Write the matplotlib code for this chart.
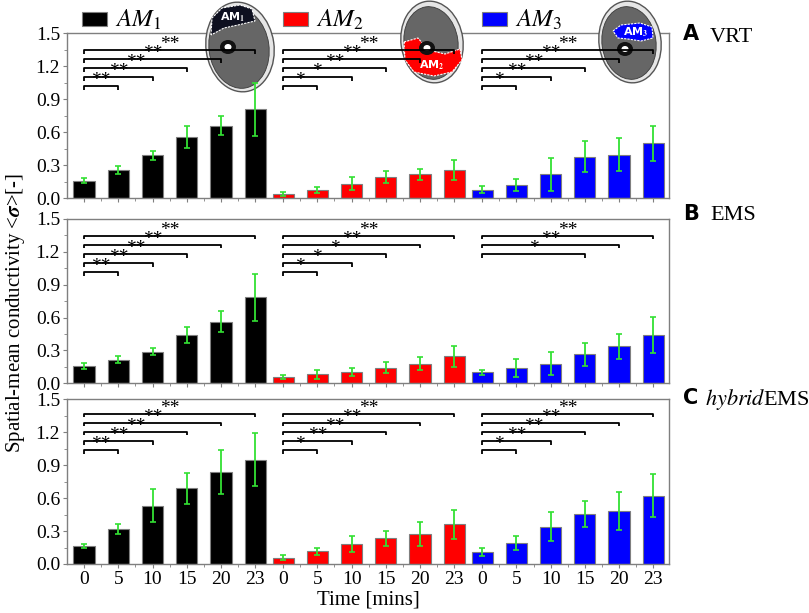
import numpy as np
import matplotlib
matplotlib.use("Agg")
import matplotlib.pyplot as plt
from matplotlib.patches import Ellipse, Polygon, Rectangle

plt.rcParams['font.family'] = ['Liberation Serif', 'DejaVu Serif']
plt.rcParams['mathtext.fontset'] = 'stix'

times = ['0', '5', '10', '15', '20', '23']
groups = ['AM1', 'AM2', 'AM3']
colors = ['#000000', '#ff0000', '#0000ff']

# values per panel (VRT, EMS, hybridEMS), per muscle group
vrt_am1 = [0.16, 0.26, 0.39, 0.56, 0.66, 0.81]
vrt_am1_err = [0.025, 0.035, 0.042, 0.10, 0.088, 0.24]
vrt_am2 = [0.04, 0.076, 0.133, 0.197, 0.218, 0.258]
vrt_am2_err = [0.018, 0.03, 0.06, 0.055, 0.052, 0.092]
vrt_am3 = [0.079, 0.121, 0.218, 0.379, 0.397, 0.50]
vrt_am3_err = [0.035, 0.053, 0.15, 0.142, 0.153, 0.158]

ems_am1 = [0.158, 0.216, 0.289, 0.438, 0.563, 0.785]
ems_am1_err = [0.024, 0.03, 0.033, 0.073, 0.094, 0.216]
ems_am2 = [0.055, 0.082, 0.103, 0.143, 0.18, 0.246]
ems_am2_err = [0.017, 0.04, 0.038, 0.052, 0.058, 0.093]
ems_am3 = [0.10, 0.137, 0.18, 0.265, 0.338, 0.438]
ems_am3_err = [0.024, 0.084, 0.108, 0.103, 0.116, 0.163]

hyb_am1 = [0.161, 0.319, 0.531, 0.692, 0.835, 0.95]
hyb_am1_err = [0.018, 0.044, 0.15, 0.141, 0.20, 0.243]
hyb_am2 = [0.055, 0.115, 0.182, 0.234, 0.273, 0.361]
hyb_am2_err = [0.023, 0.029, 0.076, 0.07, 0.105, 0.129]
hyb_am3 = [0.112, 0.194, 0.34, 0.456, 0.48, 0.623]
hyb_am3_err = [0.038, 0.062, 0.131, 0.121, 0.172, 0.199]

# significance vs. minute 0 (for 5, 10, 15, 20, 23)
vrt_sig = [['**'] * 5, ['*', '*', '**', '**', '**'], ['*', '**', '**', '**', '**']]
ems_sig = [['**'] * 5, ['*', '*', '*', '**', '**'], [None, None, '*', '**', '**']]
hyb_sig = [['**'] * 5, ['*', '**', '**', '**', '**'], ['*', '**', '**', '**', '**']]

panels = [
    ([vrt_am1, vrt_am2, vrt_am3], [vrt_am1_err, vrt_am2_err, vrt_am3_err], vrt_sig,
     [1.021, 1.103, 1.182, 1.267, 1.348]),
    ([ems_am1, ems_am2, ems_am3], [ems_am1_err, ems_am2_err, ems_am3_err], ems_sig,
     [1.013, 1.095, 1.18, 1.266, 1.348]),
    ([hyb_am1, hyb_am2, hyb_am3], [hyb_am1_err, hyb_am2_err, hyb_am3_err], hyb_sig,
     [1.039, 1.12, 1.206, 1.288, 1.37]),
]

W, H = 809, 613
fig = plt.figure(figsize=(W / 100, H / 100), dpi=100)

# overlay in pixel coordinates for legend, pictures, labels
ov = fig.add_axes([0, 0, 1, 1], zorder=10)
ov.set_xlim(0, W)
ov.set_ylim(H, 0)
ov.axis('off')
ov.patch.set_alpha(0)

boxes = [(33.3, 198.3), (219, 383.3), (399.3, 564)]
left, right = 67, 669
offset = 5.82
grey = '#7f7f7f'

axes = []
for p, (top, bot) in enumerate(boxes):
    ax = fig.add_axes([left / W, 1 - bot / H, (right - left) / W, (bot - top) / H])
    axes.append(ax)
    vals, errs, sigs, levels = panels[p]
    ticks = []
    minors = []
    for g in range(3):
        x = np.arange(6) + g * offset
        ticks += list(x)
        minors += list(x[:-1] + 0.5)
        ax.bar(x, vals[g], width=0.62, color=colors[g], edgecolor=grey, linewidth=0.8, zorder=2)
        ax.errorbar(x, vals[g], yerr=errs[g], fmt='none', ecolor='#33e033', elinewidth=1.3,
                    capsize=2.2, capthick=1.2, zorder=6)
        for k in range(5):
            s = sigs[g][k]
            if s is None:
                continue
            h = levels[k]
            x0, x1 = x[0], x[k + 1]
            ax.plot([x0, x0, x1, x1], [h - 0.035, h, h, h - 0.035], color='black', lw=1.3,
                    zorder=5, clip_on=False, solid_capstyle='butt')
            ax.text((x0 + x1) / 2, h - 0.028, s, ha='center', va='bottom', fontsize=14,
                    zorder=5)
    ax.set_xlim(-0.5, 17.1)
    ax.set_ylim(0, 1.5)
    ax.set_yticks(np.arange(0, 1.51, 0.3))
    ax.set_yticks(np.arange(0.15, 1.5, 0.3), minor=True)
    ax.yaxis.set_major_formatter(matplotlib.ticker.FormatStrFormatter('%.1f'))
    ax.set_xticks(ticks)
    ax.set_xticks(minors, minor=True)
    if p == 2:
        ax.set_xticklabels(times * 3)
    else:
        ax.set_xticklabels([])
    ax.tick_params(axis='both', which='major', direction='out', length=3, width=0.8,
                   color=grey, labelsize=14, pad=2)
    ax.tick_params(axis='both', which='minor', direction='out', length=2, width=0.6, color=grey)
    for sp in ax.spines.values():
        sp.set_color(grey)
        sp.set_linewidth(1.0)
    ax.patch.set_alpha(0)

axes[2].set_xlabel('Time [mins]', fontsize=15, labelpad=2)
fig.text(16 / W, 1 - 313 / H, r'Spatial-mean conductivity <$\boldsymbol{\sigma}$>[-]',
         rotation=90, ha='center', va='center', fontsize=15)

# legend
leg_x = [82, 283, 482]
for g in range(3):
    ov.add_patch(Rectangle((leg_x[g], 12), 25, 14, facecolor=colors[g], edgecolor=grey, lw=0.8))
    ov.text(leg_x[g] + 33, 20, r'$AM_{%d}$' % (g + 1), fontsize=18, ha='left', va='center')


def mri(cx, cy, w, h, region, col, label, lpos, bone):
    ax = axes[0]
    tr = ov.transData
    z = 3
    ax.add_patch(Ellipse((cx, cy), w, h, angle=-8, facecolor='#e6e6e6', edgecolor='#555555',
                         lw=1.0, transform=tr, clip_on=False, zorder=z))
    ax.add_patch(Ellipse((cx - 1, cy + 1), w - 8, h - 9, angle=-8, facecolor='#666666',
                         edgecolor='#3a3a3a', lw=0.6, transform=tr, clip_on=False, zorder=z))
    ax.add_patch(Polygon(region, closed=True, facecolor=col, edgecolor='white', lw=0.8,
                         ls=(0, (2, 1)), transform=tr, clip_on=False, zorder=z))
    ax.add_patch(Ellipse(bone, 16, 14, facecolor='#111111', transform=tr, clip_on=False,
                         zorder=z))
    ax.add_patch(Ellipse(bone, 7, 6, facecolor='white', transform=tr, clip_on=False, zorder=z))
    ax.text(lpos[0], lpos[1], label, color='white', fontsize=8, fontweight='bold',
            family='DejaVu Sans', ha='center', va='center', transform=tr, zorder=z)


mri(240, 47, 68, 90,
    [(211, 35), (212, 18), (222, 8), (240, 5), (252, 9), (255, 21), (238, 25), (224, 28)],
    '#0e1020', r'AM$_\mathbf{1}$', (233, 17), (228, 47))
mri(432, 42, 62, 82,
    [(404, 42), (418, 38), (428, 50), (445, 54), (460, 49), (462, 60), (452, 72), (434, 76),
     (414, 72), (405, 60)],
    '#ff0000', r'AM$_\mathbf{2}$', (432, 65), (427, 48))
mri(630, 42, 62, 82,
    [(613, 31), (621, 25), (640, 23), (652, 27), (653, 38), (641, 41), (628, 39), (618, 38)],
    '#0000ff', r'AM$_\mathbf{3}$', (636, 32), (625, 49))

# panel labels for the photographs
ov.text(683, 34, 'A', fontsize=15, fontweight='bold', family='DejaVu Sans', ha='left', va='center')
ov.text(710, 37, 'VRT', fontsize=16, ha='left', va='center')
ov.text(683, 214, 'B', fontsize=15, fontweight='bold', family='DejaVu Sans', ha='left', va='center')
ov.text(710, 216, 'EMS', fontsize=16, ha='left', va='center')
ov.text(683, 398, 'C', fontsize=15, fontweight='bold', family='DejaVu Sans', ha='left', va='center')
ov.text(705, 400, r'$\it{hybrid}$EMS', fontsize=16, ha='left', va='center')

fig.savefig('out.png', dpi=100)
